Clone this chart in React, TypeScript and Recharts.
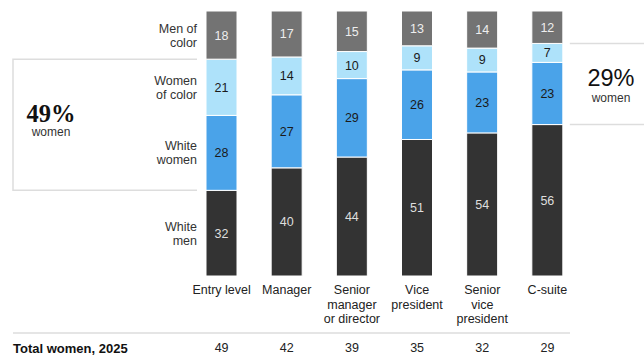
import React from "react";
import { BarChart, Bar, XAxis, YAxis, LabelList } from "recharts";

const categories = ["Entry level", "Manager", "Senior manager or director", "Vice president", "Senior vice president", "C-suite"];
const categoryLines = [["Entry level"], ["Manager"], ["Senior", "manager", "or director"], ["Vice", "president"], ["Senior", "vice", "president"], ["C-suite"]];

const whiteMen = [32, 40, 44, 51, 54, 56];
const whiteWomen = [28, 27, 29, 26, 23, 23];
const womenOfColor = [21, 14, 10, 9, 9, 7];
const menOfColor = [18, 17, 15, 13, 14, 12];
const totalWomen = [49, 42, 39, 35, 32, 29];

const FONT = "'Liberation Sans', Arial, sans-serif";
const SERIF = "'Liberation Serif', 'DejaVu Serif', serif";
const TEXT = "#333333";
const RULE = "#dddddd";

const data = categories.map((cat, i) => ({
  cat,
  wm: whiteMen[i],
  ww: whiteWomen[i],
  woc: womenOfColor[i],
  moc: menOfColor[i],
}));

const series = [
  { key: "wm", name: ["White", "men"], color: "#333333", text: "#dedede" },
  { key: "ww", name: ["White", "women"], color: "#4aa3e9", text: "#1a1a1a" },
  { key: "woc", name: ["Women", "of color"], color: "#aee2fa", text: "#1a1a1a" },
  { key: "moc", name: ["Men of", "color"], color: "#737373", text: "#eeeeee" },
];

const box = (props: any) => {
  const vb = props.viewBox || props;
  return {
    x: vb.x,
    y: Math.min(vb.y, vb.y + vb.height),
    width: vb.width,
    height: Math.abs(vb.height),
  };
};

// series name to the left of the first bar
const SeriesName = (lines: string[]) => (props: any) => {
  if (props.index !== 0) return null;
  const b = box(props);
  const cy = b.y + b.height / 2;
  return (
    <text x={b.x - 9} y={cy - ((lines.length - 1) * 14) / 2 + 4.5} textAnchor="end" fill={TEXT} fontSize={12.5} fontFamily={FONT}>
      {lines.map((l, i) => (
        <tspan key={i} x={b.x - 9} dy={i === 0 ? 0 : 14}>
          {l}
        </tspan>
      ))}
    </text>
  );
};

// bracket around the women segments of the first and last bar
const WomenNote = (props: any) => {
  const i = props.index;
  const last = categories.length - 1;
  if (i !== 0 && i !== last) return null;
  const b = box(props);
  const bottom = b.y + b.height;
  const top = b.y - womenOfColor[i] * (b.height / whiteWomen[i]);
  const mid = (top + bottom) / 2;
  if (i === 0) {
    const left = 13;
    const right = b.x - 9;
    const cx = 51;
    return (
      <g>
        <path d={`M${right},${top}H${left}V${bottom}H${right}`} fill="none" stroke={RULE} strokeWidth={1.5} />
        <text x={cx} y={mid - 3} textAnchor="middle" fontSize={24.5} fontWeight={700} fill="#111" fontFamily={SERIF}>
          {totalWomen[i]}%
        </text>
        <text x={cx} y={mid + 11.5} textAnchor="middle" fontSize={12} fill={TEXT} fontFamily={FONT}>
          women
        </text>
      </g>
    );
  }
  const left = b.x + b.width + 7;
  const cx = 611;
  return (
    <g>
      <line x1={left} x2={644} y1={top} y2={top} stroke={RULE} strokeWidth={1.5} />
      <line x1={left} x2={644} y1={bottom} y2={bottom} stroke={RULE} strokeWidth={1.5} />
      <text x={cx} y={mid + 2} textAnchor="middle" fontSize={23.5} fill="#111" fontFamily={FONT}>
        {totalWomen[i]}%
      </text>
      <text x={cx} y={mid + 18} textAnchor="middle" fontSize={12} fill={TEXT} fontFamily={FONT}>
        women
      </text>
    </g>
  );
};

const CategoryTick = (props: any) => {
  const { x, y, payload } = props;
  const idx = payload.index ?? categories.indexOf(payload.value);
  const lines = categoryLines[idx] || [payload.value];
  return (
    <g>
      <text x={x} y={y + 18} textAnchor="middle" fill="#222" fontSize={12.5} fontFamily={FONT}>
        {lines.map((l: string, i: number) => (
          <tspan key={i} x={x} dy={i === 0 ? 0 : 14.5}>
            {l}
          </tspan>
        ))}
      </text>
      <text x={x} y={y + 76} textAnchor="middle" fill="#222" fontSize={12.5} fontFamily={FONT}>
        {totalWomen[idx]}
      </text>
    </g>
  );
};

export default function App() {
  return (
    <div style={{ position: "absolute", left: 0, top: 0, width: 644, height: 356, background: "#fff", fontFamily: FONT }}>
      <BarChart
        width={644}
        height={356}
        data={data}
        stackOffset="expand"
        margin={{ top: 11, right: 64, left: 189, bottom: 0 }}
      >
        <XAxis
          dataKey="cat"
          height={80}
          axisLine={false}
          tickLine={false}
          tickSize={0}
          tickMargin={0}
          interval={0}
          tick={<CategoryTick />}
        />
        <YAxis hide domain={[0, 1]} />
        {series.map((s) => (
          <Bar
            key={s.key}
            dataKey={s.key}
            stackId="a"
            fill={s.color}
            stroke="#ffffff"
            strokeWidth={1}
            barSize={31}
            isAnimationActive={false}
          >
            <LabelList dataKey={s.key} position="center" fill={s.text} stroke="none" fontSize={12.5} fontFamily={FONT} />
            <LabelList dataKey={s.key} content={SeriesName(s.name)} />
            {s.key === "ww" && <LabelList dataKey={s.key} content={WomenNote} />}
          </Bar>
        ))}
      </BarChart>
      <svg width={644} height={356} style={{ position: "absolute", left: 0, top: 0, pointerEvents: "none" }}>
        <line x1={13} x2={570} y1={333} y2={333} stroke={RULE} strokeWidth={1.5} />
        <text x={13} y={352.5} fontSize={13} fontWeight={700} fill="#111" fontFamily={FONT}>
          Total women, 2025
        </text>
      </svg>
    </div>
  );
}
